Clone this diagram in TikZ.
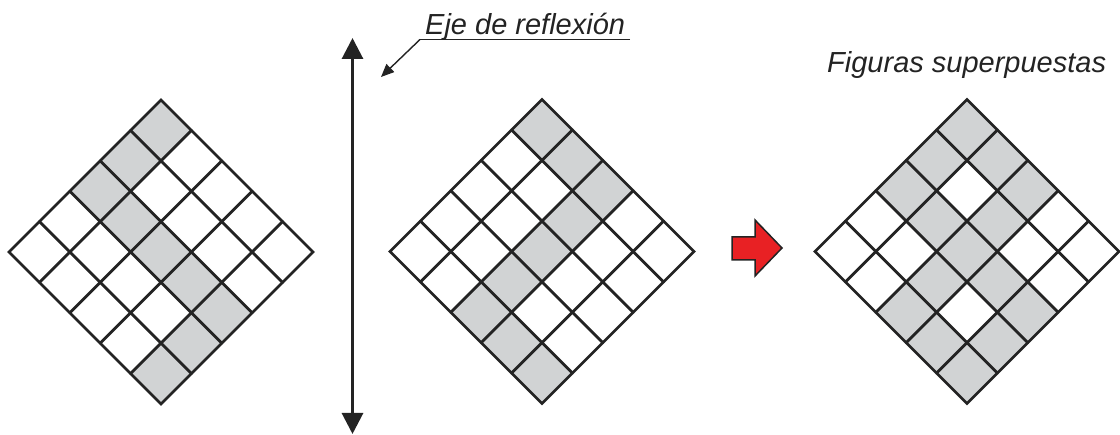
\documentclass[tikz,border=0pt]{standalone}
\usepackage{fontspec}
\setmainfont{Liberation Sans}
\usetikzlibrary{arrows.meta}
\definecolor{cellgrey}{RGB}{209,211,212}
\definecolor{ink}{RGB}{35,35,35}
\definecolor{arrowred}{RGB}{232,33,36}
\tikzset{
  gridline/.style={line width=2.8pt, draw=ink, line cap=round},
  outline/.style={line width=2.8pt, draw=ink, line join=miter},
  label/.style={font=\fontsize{29}{34}\selectfont\itshape, text=ink, inner sep=0pt},
}
\newcommand\diamondgrid[3]{%
  \begin{scope}[shift={(#1,#2)}, x={(30.4pt,-30.4pt)}, y={(-30.4pt,-30.4pt)}]
    \foreach \j/\i in {#3} {\fill[cellgrey] (\j,\i) -- (\j+1,\i) -- (\j+1,\i+1) -- (\j,\i+1) -- cycle;}
    \foreach \k in {1,...,4} {\draw[gridline] (\k,0) -- (\k,5); \draw[gridline] (0,\k) -- (5,\k);}
    \draw[outline] (0,0) -- (5,0) -- (5,5) -- (0,5) -- cycle;
  \end{scope}}
\begin{document}
\begin{tikzpicture}[x=1pt, y=-1pt]
  \useasboundingbox (0,0) rectangle (1120,435);
  % diamonds
  \diamondgrid{161}{100}{0/0,0/1,0/2,1/2,2/2,3/2,4/2,4/3,4/4}
  \diamondgrid{542}{99.5}{0/0,1/0,2/0,2/1,2/2,2/3,2/4,3/4,4/4}
  \diamondgrid{967}{99.5}{0/0,0/1,0/2,1/2,2/2,3/2,4/2,4/3,4/4,1/0,2/0,2/1,2/3,2/4,3/4}
  % reflection axis
  \coordinate (axtop) at (352.5,38);
  \coordinate (axbot) at (352.5,434);
  \draw[line width=3pt, draw=ink, {Triangle[length=21pt,width=21pt]}-{Triangle[length=21pt,width=21pt]}] (axtop) -- (axbot);
  % label of axis
  \node[label, anchor=base west] (eje) at (425,35) {Eje de reflexión};
  \coordinate (ul) at (420,39.5);
  \coordinate (ur) at (630,39.5);
  \coordinate (leadtip) at (381,77);
  \draw[line width=1.6pt, draw=ink] (ur) -- (ul);
  \draw[line width=1.4pt, draw=ink, -{Triangle[length=13pt,width=11pt]}] (ul) -- (leadtip);
  % red arrow
  \filldraw[fill=arrowred, draw=ink, line width=1.5pt, line join=miter]
    (732,237) -- (755,237) -- (755,220) -- (782,248) -- (755,276) -- (755,260) -- (732,260) -- cycle;
  % superposed label
  \node[label, anchor=base west] (sup) at (827,73) {Figuras superpuestas};
\end{tikzpicture}
\end{document}
